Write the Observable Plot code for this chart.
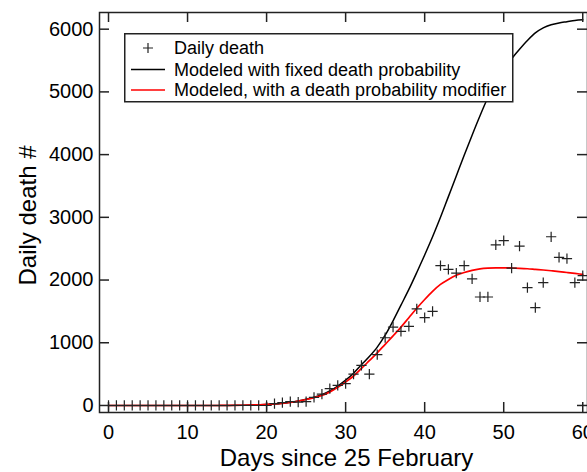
<!DOCTYPE html>
<html>
<head>
<meta charset="utf-8">
<script src="https://cdn.jsdelivr.net/npm/d3@7"></script>
<script src="https://cdn.jsdelivr.net/npm/@observablehq/plot@0.6"></script>
<style>
  html, body { margin: 0; padding: 0; background: #fff; }
  #wrap { position: relative; width: 587px; height: 472px; font-family: "Liberation Sans", Arial, sans-serif; }
  #legend { position: absolute; left: 124px; top: 33px; }
</style>
</head>
<body>
<div id="wrap"><div id="chart"></div><svg id="legend" width="390" height="70"></svg></div>
<script>
const days = [0,1,2,3,4,5,6,7,8,9,10,11,12,13,14,15,16,17,18,19,20,21,22,23,24,25,26,27,28,29,30,31,32,33,34,35,36,37,38,39,40,41,42,43,44,45,46,47,48,49,50,51,52,53,54,55,56,57,58,59,60];
const dailyDeath = [0,0,0,0,0,0,0,0,0,0,0,0,0,0,0,0,0,0,0,0,0,
  30,45,60,55,60,130,180,270,320,350,500,640,500,810,1080,1250,1180,1260,1540,1400,1500,
  2230,2170,2110,2230,2020,1730,1730,2560,2630,2190,2540,1880,1560,1960,2690,2360,2340,1960,2070];
const modelFixed = [0,0,0,0,0,0,0,0,0,0,0,0,0,0,0,1,2,4,7,11,16,
  24,36,52,73,100,132,172,232,310,405,515,650,780,930,1120,1350,1600,1850,2120,2400,
  2690,3000,3330,3660,3990,4310,4620,4910,5160,5370,5530,5680,5820,5940,6020,6070,6100,6120,6140,6150];
const modelModifier = [0,0,0,0,0,0,0,0,0,0,0,0,0,0,0,1,2,4,7,11,16,
  24,35,50,70,95,125,160,215,290,375,470,590,715,840,975,1110,1250,1400,1550,1690,
  1820,1930,2010,2075,2120,2155,2178,2190,2195,2195,2192,2187,2180,2170,2160,2148,2135,2120,2105,2090];
const xTicks = [0,10,20,30,40,50,60];
const yTicks = [0,1000,2000,3000,4000,5000,6000];
const legendLabels = ["Daily death", "Modeled with fixed death probability", "Modeled, with a death probability modifier"];
const xTitle = "Days since 25 February";
const yTitle = "Daily death #";

const pts = days.map((d, i) => ({day: d, v: dailyDeath[i]}));
const fixed = days.map((d, i) => ({day: d, v: modelFixed[i]}));
const modif = days.map((d, i) => ({day: d, v: modelModifier[i]}));

const W = 587, H = 472, mL = 99, mR = 0, mT = 12, mB = 60;
const fw = W - mL - mR, fh = H - mT - mB, tk = 10;

const chart = Plot.plot({
  width: W, height: H,
  marginLeft: mL, marginRight: mR, marginTop: mT, marginBottom: mB,
  style: {fontFamily: "Liberation Sans, Arial, sans-serif", fontSize: "20px", color: "#000", background: "#fff"},
  x: {domain: [-1.14, 60.6]},
  y: {domain: [-112, 6266]},
  marks: [
    Plot.line(fixed, {x: "day", y: "v", stroke: "#000", strokeWidth: 1.5, curve: "monotone-x"}),
    Plot.line(modif, {x: "day", y: "v", stroke: "#ff0000", strokeWidth: 1.7, curve: "monotone-x"}),
    Plot.dot(pts, {x: "day", y: "v", symbol: "plus", r: 3.4, stroke: "#222", strokeWidth: 1.2}),
    Plot.frame({stroke: "#222", strokeWidth: 1.5}),
    Plot.ruleX(xTicks, {x: d => d, insetTop: fh - tk, stroke: "#222", strokeWidth: 1.5}),
    Plot.ruleX(xTicks, {x: d => d, insetBottom: fh - tk, stroke: "#222", strokeWidth: 1.5}),
    Plot.ruleY(yTicks, {y: d => d, insetRight: fw - tk, stroke: "#222", strokeWidth: 1.5}),
    Plot.ruleY(yTicks, {y: d => d, insetLeft: fw - tk, stroke: "#222", strokeWidth: 1.5}),
    Plot.axisX({ticks: xTicks, tickSize: 0, tickPadding: 12, fontSize: 20, label: null, fill: "#000"}),
    Plot.axisY({ticks: yTicks, tickSize: 0, tickPadding: 6, fontSize: 20, label: null, fill: "#000", tickFormat: d => String(d)}),
    Plot.text([xTitle], {frameAnchor: "bottom", dy: 53, dx: 3, fontSize: 24, fill: "#000"}),
    Plot.text([yTitle], {frameAnchor: "left", textAnchor: "middle", rotate: -90, dx: -71, dy: 3, fontSize: 24, fill: "#000"})
  ]
});
document.getElementById("chart").appendChild(chart);

// Legend (inside plot area, white box)
const lg = d3.select("#legend");
lg.append("rect").attr("x", 0.75).attr("y", 0.75).attr("width", 388).attr("height", 68)
  .attr("fill", "#fff").attr("stroke", "#222").attr("stroke-width", 1.5);
const rows = [15, 36.5, 57];
const g = lg.append("g").attr("font-family", "Liberation Sans, Arial, sans-serif").attr("font-size", 18);
legendLabels.forEach((lab, i) => {
  const y = rows[i];
  if (i === 0) {
    g.append("path").attr("d", `M${24-5},${y}H${24+5}M24,${y-5}V${y+5}`).attr("stroke", "#222").attr("stroke-width", 1.2);
  } else {
    g.append("line").attr("x1", 7).attr("x2", 41).attr("y1", y).attr("y2", y)
      .attr("stroke", i === 1 ? "#000" : "#ff0000").attr("stroke-width", 1.5);
  }
  g.append("text").attr("x", 50).attr("y", y).attr("dy", "0.35em").attr("fill", "#000").text(lab);
});
</script>
</body>
</html>
